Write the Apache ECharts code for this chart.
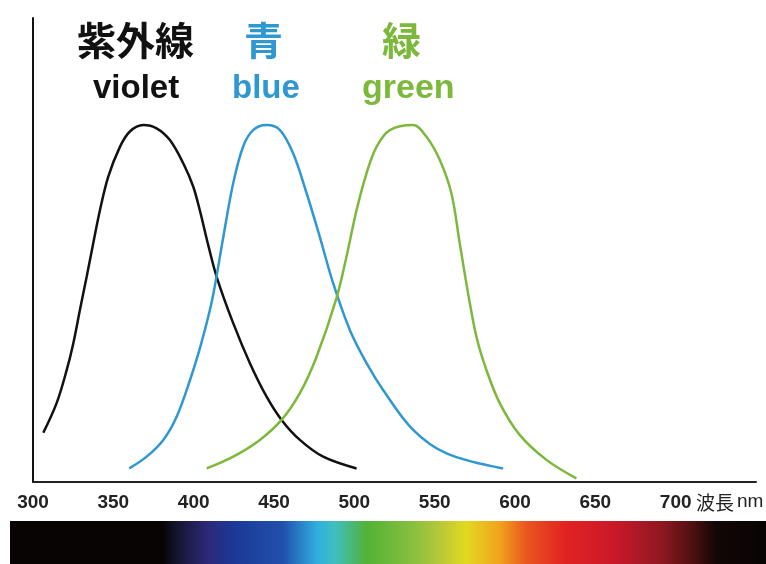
<!DOCTYPE html>
<html>
<head>
<meta charset="utf-8">
<script src="https://cdn.jsdelivr.net/npm/echarts@6/dist/echarts.min.js"></script>
<style>
  html, body { margin: 0; padding: 0; background: #fff; }
  #chart { width: 766px; height: 564px; }
</style>
</head>
<body>
<div id="chart"></div>
<script>
// wavelength (nm) and relative sensitivity (%)
var violetNm  = [306.4, 314.7, 321.0, 325.1, 329.2, 333.4, 337.5, 341.7, 346.8, 354.1, 360.3, 368.6, 376.9, 385.2, 393.5, 399.7, 403.9, 409.0, 414.3, 424.6, 435.0, 445.4, 454.7, 466.1, 480.6, 501.4];
var violetVal = [13.8, 22.1, 31.4, 38.9, 48.2, 57.5, 66.9, 76.2, 85.5, 93.9, 98.2, 100.0, 99.1, 95.8, 89.3, 82.8, 76.0, 66.5, 57.5, 44.5, 33.3, 23.9, 17.4, 11.8, 7.1, 3.8];

var blueNm  = [359.9, 370.7, 381.1, 389.4, 397.7, 403.9, 410.1, 413.2, 418.4, 424.6, 430.8, 437.0, 445.4, 453.7, 461.9, 470.3, 478.5, 486.8, 497.2, 507.6, 517.9, 536.6, 557.4, 592.6];
var blueVal = [3.8, 7.1, 11.8, 18.3, 28.5, 37.5, 48.2, 55.0, 68.5, 83.7, 94.0, 98.6, 100.0, 98.6, 92.1, 80.9, 68.7, 55.7, 42.6, 33.3, 25.8, 14.6, 8.0, 3.8];

var greenNm  = [408.1, 424.6, 441.2, 454.7, 466.1, 476.5, 488.9, 495.1, 501.4, 507.6, 513.8, 522.1, 536.6, 544.9, 553.2, 560.4, 565.6, 570.8, 576.0, 582.2, 590.5, 602.9, 619.6, 638.2];
var greenVal = [3.8, 7.1, 11.8, 17.4, 24.9, 35.1, 51.5, 63.1, 76.2, 86.5, 93.9, 98.6, 100.0, 96.7, 90.2, 80.9, 66.9, 52.9, 40.7, 31.4, 22.1, 13.2, 6.2, 1.0];

var tickLabels = [300, 350, 400, 450, 500, 550, 600, 650, 700];

function zip(xs, ys) {
  return xs.map(function (x, i) { return [x, ys[i]]; });
}

var chart = echarts.init(document.getElementById('chart'));

var cjk = '"Noto Sans CJK JP"';
var latin = '"Liberation Sans", Arial, sans-serif';

chart.setOption({
  animation: false,
  backgroundColor: '#fff',
  title: [
    { text: '紫外線', left: 77, top: 21, padding: 0, textStyle: { fontFamily: cjk, fontWeight: 'bold', fontSize: 39, color: '#111' } },
    { text: '青', left: 244, top: 21, padding: 0, textStyle: { fontFamily: cjk, fontWeight: 'bold', fontSize: 39, color: '#2f98d0' } },
    { text: '緑', left: 382, top: 21, padding: 0, textStyle: { fontFamily: cjk, fontWeight: 'bold', fontSize: 39, color: '#7cb93a' } },
    { text: 'violet', left: 93, top: 72, padding: 0, textStyle: { fontFamily: latin, fontWeight: 'bold', fontSize: 33, color: '#111' } },
    { text: 'blue', left: 232, top: 72, padding: 0, textStyle: { fontFamily: latin, fontWeight: 'bold', fontSize: 33, color: '#2f98d0' } },
    { text: 'green', left: 362, top: 72, padding: 0, textStyle: { fontFamily: latin, fontWeight: 'bold', fontSize: 34, color: '#7cb93a' } },
    { text: '波長', left: 696, top: 493, padding: 0, textStyle: { fontFamily: cjk, fontWeight: 'normal', fontSize: 19, color: '#222' } },
    { text: 'nm', left: 737, top: 492, padding: 0, textStyle: { fontFamily: latin, fontWeight: 'normal', fontSize: 19, color: '#222' } }
  ],
  grid: {
    left: 33,
    right: 10,
    top: 18,
    bottom: 82
  },
  xAxis: {
    type: 'value',
    min: 300,
    max: 750,
    interval: 50,
    axisLine: { lineStyle: { color: '#222', width: 2 } },
    axisTick: { show: false },
    splitLine: { show: false },
    axisLabel: {
      margin: 11,
      fontFamily: latin,
      fontWeight: 'bold',
      fontSize: 19,
      color: '#222',
      formatter: function (v) {
        return tickLabels.indexOf(v) >= 0 ? String(v) : '';
      }
    }
  },
  yAxis: {
    type: 'value',
    min: 0,
    max: 130,
    axisLine: { show: true, lineStyle: { color: '#111', width: 2 } },
    axisTick: { show: false },
    axisLabel: { show: false },
    splitLine: { show: false }
  },
  graphic: [
    {
      type: 'rect',
      left: 10,
      top: 521,
      shape: { width: 756, height: 43 },
      style: {
        fill: new echarts.graphic.LinearGradient(0, 0, 1, 0, [
          { offset: 0, color: '#080404' },
          { offset: 0.202, color: '#080404' },
          { offset: 0.221, color: '#15152e' },
          { offset: 0.261, color: '#2d2878' },
          { offset: 0.295, color: '#1c3896' },
          { offset: 0.361, color: '#2150ac' },
          { offset: 0.406, color: '#30aee0' },
          { offset: 0.43, color: '#3fbfc0' },
          { offset: 0.472, color: '#52b236' },
          { offset: 0.537, color: '#8cc040' },
          { offset: 0.569, color: '#b8c838' },
          { offset: 0.603, color: '#e2d920' },
          { offset: 0.648, color: '#f2a21e' },
          { offset: 0.683, color: '#e9561f' },
          { offset: 0.735, color: '#e12222' },
          { offset: 0.802, color: '#c9182a' },
          { offset: 0.86, color: '#901822' },
          { offset: 0.903, color: '#4f1010' },
          { offset: 0.934, color: '#120606' },
          { offset: 1, color: '#080404' }
        ])
      }
    }
  ],
  series: [
    {
      name: 'violet',
      type: 'line',
      smooth: 0.35,
      showSymbol: false,
      lineStyle: { color: '#111', width: 2.5 },
      data: zip(violetNm, violetVal)
    },
    {
      name: 'blue',
      type: 'line',
      smooth: 0.35,
      showSymbol: false,
      lineStyle: { color: '#2f98d0', width: 2.5 },
      data: zip(blueNm, blueVal)
    },
    {
      name: 'green',
      type: 'line',
      smooth: 0.35,
      showSymbol: false,
      lineStyle: { color: '#7cb93a', width: 2.5 },
      data: zip(greenNm, greenVal)
    }
  ]
});
</script>
</body>
</html>
